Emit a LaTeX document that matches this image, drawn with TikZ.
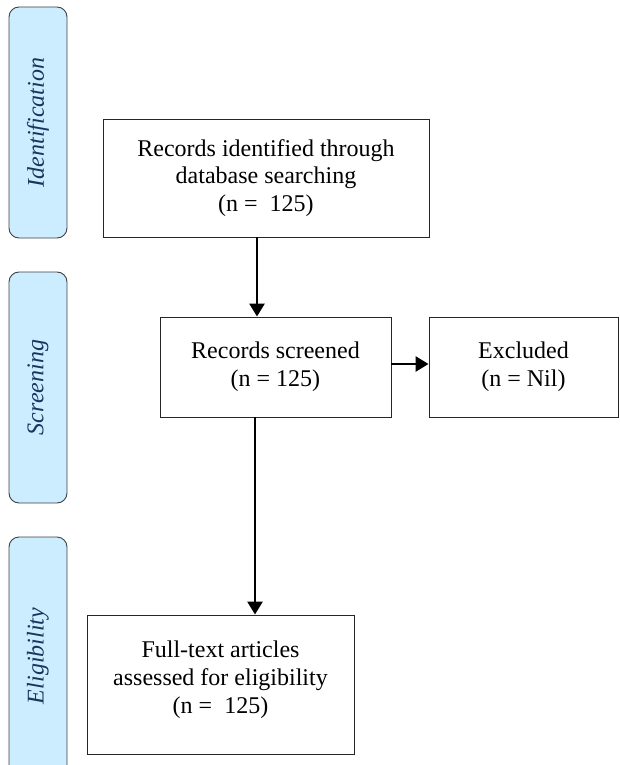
\documentclass[tikz,border=0pt]{standalone}
\usepackage{xcolor}
\usepackage{fontspec}
\setmainfont{Liberation Serif}
\usetikzlibrary{arrows.meta}

\begin{document}
\begin{tikzpicture}[x=1pt,y=-1pt,
  flowbox/.style={draw=black!85,line width=0.9pt,fill=white,align=center,inner sep=0pt,
    font=\fontsize{24}{27.6}\selectfont},
  phasebox/.style={draw=black!75,line width=0.9pt,fill=cfphase,rounded corners=10pt,
    minimum height=58,text=clphase,inner sep=0pt,rotate=90,
    font=\fontsize{24}{27.6}\selectfont\itshape},
  flowarrow/.style={line width=2.6pt,-{Triangle[length=13pt,width=15pt]}}]
\definecolor{cfphase}{RGB}{204,236,255}
\definecolor{clphase}{RGB}{23,54,93}
%
\useasboundingbox (0,0) rectangle (619,765);
\clip (0,0) rectangle (619,765);
%
\node[phasebox,minimum width=231] (ident) at (38,122.5) {Identification};
\node[phasebox,minimum width=231] (screen) at (38,387.5) {Screening};
\node[phasebox,minimum width=238] (elig) at (38,656) {Eligibility};
%
\node[flowbox,minimum width=326,minimum height=118] (ident1) at (266,178) {Records identified through\\database searching\\(n =\ \ 125)};
\node[flowbox,minimum width=231,minimum height=100] (screen1) at (275.5,367) {Records screened\\(n = 125)};
\node[flowbox,minimum width=189,minimum height=100] (excl) at (523.5,367) {Excluded\\(n = Nil)};
\node[flowbox,minimum width=267,minimum height=139] (full) at (220.5,684.5) {Full-text articles\\assessed for eligibility\\(n =\ \ 125)\\[-13pt]\mbox{}};
%
\coordinate (a1) at (257,0);
\coordinate (a2) at (255,0);
\draw[flowarrow] (ident1.south -| a1) -- (screen1.north -| a1);
\draw[flowarrow] (screen1.east) ++(0,-3) coordinate (a3) -- (excl.west |- a3);
\draw[flowarrow] (screen1.south -| a2) -- (full.north -| a2);
%
\end{tikzpicture}
\end{document}
